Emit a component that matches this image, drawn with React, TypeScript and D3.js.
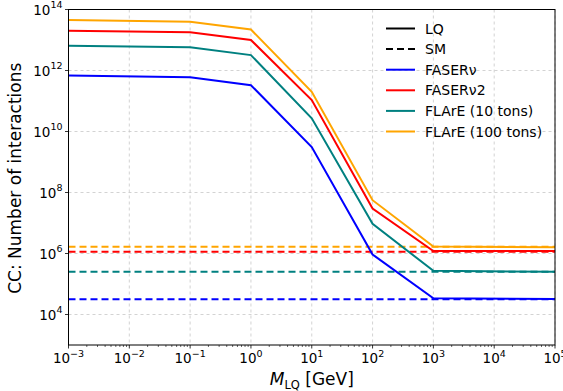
import React from "react";
import * as d3 from "d3";

const massPoints = [1e-3, 1e-1, 1, 10, 100, 1e3, 1e5];
const seriesNames = ["FASERν", "FASERν2", "FLArE (10 tons)", "FLArE (100 tons)"];
const seriesColors = ["#0000ff", "#ff0000", "#008080", "#ffa500"];
const lqFaserNu = [6.8e11, 6.0e11, 3.3e11, 3.1e9, 9.3e5, 3.4e4, 3.2e4];
const lqFaserNu2 = [2.0e13, 1.8e13, 1.0e13, 1.07e11, 3.0e7, 1.2e6, 1.2e6];
const lqFlare10 = [6.5e12, 5.8e12, 3.2e12, 2.7e10, 9.4e6, 2.7e5, 2.5e5];
const lqFlare100 = [4.5e13, 4.0e13, 2.2e13, 2.0e11, 5.6e7, 1.7e6, 1.6e6];
const smValues = [3.15e4, 1.15e6, 2.5e5, 1.65e6];
const xTickExps = [-3, -2, -1, 0, 1, 2, 3, 4, 5];
const yTickExps = [4, 6, 8, 10, 12, 14];

const W = 563, H = 391;
const L = 68.5, R = 555, T = 9.5, B = 345;
const FONT = "DejaVu Sans, sans-serif";

export default function App() {
  const x = d3.scaleLog().domain([1e-3, 1e5]).range([L, R]);
  const y = d3.scaleLog().domain([1e3, 1e14]).range([B, T]);
  const lq = [lqFaserNu, lqFaserNu2, lqFlare10, lqFlare100];
  const line = d3
    .line<number>()
    .x((_, i) => x(massPoints[i]))
    .y((v) => y(v));

  const minor: number[] = [];
  for (let e = -3; e < 5; e++) for (let k = 2; k <= 9; k++) minor.push(k * Math.pow(10, e));

  const legendRows = [
    { label: "LQ", color: "#000", dash: undefined as string | undefined },
    { label: "SM", color: "#000", dash: "7,4" },
    ...seriesNames.map((n, i) => ({ label: n, color: seriesColors[i], dash: undefined })),
  ];

  return (
    <svg width={W} height={H} style={{ position: "absolute", left: 0, top: 0, background: "#fff" }} fontFamily={FONT}>
      <rect x={0} y={0} width={W} height={H} fill="#fff" />
      {/* grid */}
      {xTickExps.map((e) => (
        <line key={"gx" + e} x1={x(Math.pow(10, e))} x2={x(Math.pow(10, e))} y1={T} y2={B}
          stroke="#c8c8c8" strokeWidth={0.8} strokeDasharray="3,3" />
      ))}
      {yTickExps.map((e) => (
        <line key={"gy" + e} x1={L} x2={R} y1={y(Math.pow(10, e))} y2={y(Math.pow(10, e))}
          stroke="#c8c8c8" strokeWidth={0.8} strokeDasharray="3,3" />
      ))}
      {/* SM dashed lines */}
      {smValues.map((v, i) => (
        <line key={"sm" + i} x1={L} x2={R} y1={y(v)} y2={y(v)} stroke={seriesColors[i]} strokeWidth={2} strokeDasharray="7,4" />
      ))}
      {/* LQ solid lines */}
      {lq.map((vals, i) => (
        <path key={"lq" + i} d={line(vals) || ""} fill="none" stroke={seriesColors[i]} strokeWidth={2} />
      ))}
      {/* spines */}
      <rect x={L} y={T} width={R - L} height={B - T} fill="none" stroke="#000" strokeWidth={1} />
      {/* x ticks */}
      {xTickExps.map((e) => (
        <g key={"xt" + e}>
          <line x1={x(Math.pow(10, e))} x2={x(Math.pow(10, e))} y1={B} y2={B + 3.5} stroke="#000" strokeWidth={0.8} />
          <text x={x(Math.pow(10, e))} y={363} textAnchor="middle" fontSize={13.5}>
            10<tspan dy={-6.5} fontSize={9.5}>{e < 0 ? "−" + -e : String(e)}</tspan>
          </text>
        </g>
      ))}
      {minor.map((m, i) => (
        <line key={"mx" + i} x1={x(m)} x2={x(m)} y1={B} y2={B + 2} stroke="#000" strokeWidth={0.6} />
      ))}
      {/* y ticks */}
      {yTickExps.map((e) => (
        <g key={"yt" + e}>
          <line x1={L - 3.5} x2={L} y1={y(Math.pow(10, e))} y2={y(Math.pow(10, e))} stroke="#000" strokeWidth={0.8} />
          <text x={L - 6} y={y(Math.pow(10, e)) + 5} textAnchor="end" fontSize={13.5}>
            10<tspan dy={-6.5} fontSize={9.5}>{String(e)}</tspan>
          </text>
        </g>
      ))}
      {/* axis labels */}
      <text x={(L + R) / 2} y={385} textAnchor="middle" fontSize={17}>
        <tspan fontStyle="italic">M</tspan>
        <tspan fontSize={11.5} dy={3.5}>LQ</tspan>
        <tspan dy={-3.5}> [GeV]</tspan>
      </text>
      <text transform={`translate(21,${(T + B) / 2 + 1}) rotate(-90)`} textAnchor="middle" fontSize={17}>
        CC: Number of interactions
      </text>
      {/* legend */}
      {legendRows.map((r, i) => {
        const yy = 28.5 + i * 20.6;
        return (
          <g key={"lg" + i}>
            <line x1={386} x2={415} y1={yy} y2={yy} stroke={r.color} strokeWidth={2} strokeDasharray={r.dash} />
            <text x={425} y={yy + 5} fontSize={14}>{r.label}</text>
          </g>
        );
      })}
    </svg>
  );
}
